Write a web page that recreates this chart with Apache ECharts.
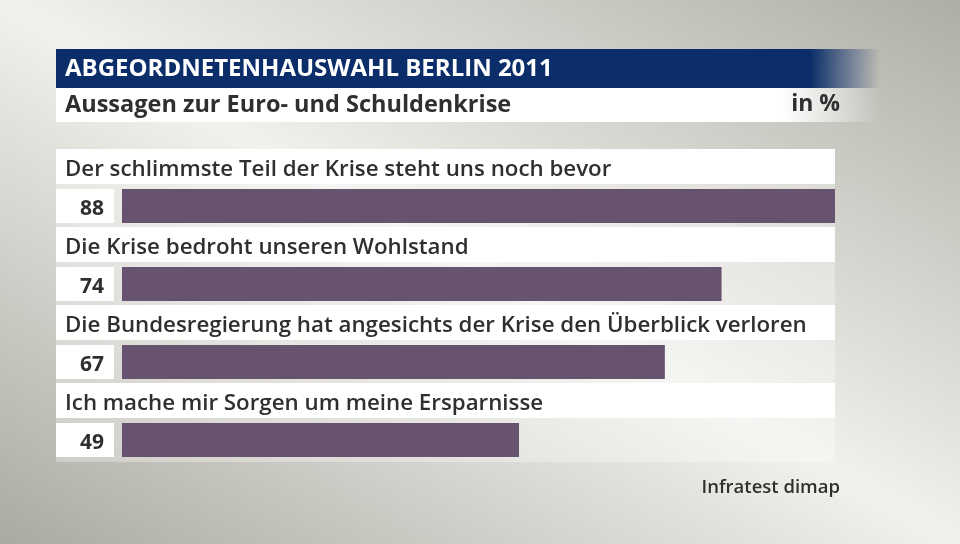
<!DOCTYPE html>
<html>
<head>
<meta charset="utf-8">
<title>Aussagen zur Euro- und Schuldenkrise</title>
<script src="https://cdn.jsdelivr.net/npm/echarts@6/dist/echarts.min.js"></script>
<style>
  html, body { margin: 0; padding: 0; }
  #chart { width: 960px; height: 544px; }
</style>
</head>
<body>
<div id="chart"></div>
<script>
// data
var categories = [
  'Der schlimmste Teil der Krise steht uns noch bevor',
  'Die Krise bedroht unseren Wohlstand',
  'Die Bundesregierung hat angesichts der Krise den Überblick verloren',
  'Ich mache mir Sorgen um meine Ersparnisse'
];
var values = [88, 74, 67, 49];
var xMax = 88;

var titleText = 'ABGEORDNETENHAUSWAHL BERLIN 2011';
var subtitleText = 'Aussagen zur Euro- und Schuldenkrise';
var unitText = 'in %';
var sourceText = 'Infratest dimap';

var fontFamily = '"Open Sans", "Noto Sans", sans-serif';
var textColor = '#2f2f2f';

var chart = echarts.init(document.getElementById('chart'));

function renderRow(params, api) {
  var i = api.value(0);
  var left = api.coord([0, i]);
  var right = api.coord([xMax, i]);
  var cy = left[1];
  var x0 = left[0] - 66;
  var x1 = right[0];
  return {
    type: 'group',
    children: [
      // pale track behind bar + value box
      { type: 'rect', shape: { x: x0, y: cy - 22, width: x1 - x0, height: 44 },
        style: { fill: 'rgba(255,255,255,0.3)' } },
      // white label strip
      { type: 'rect', shape: { x: x0, y: cy - 57, width: x1 - x0, height: 35 },
        style: { fill: '#ffffff' } },
      // white value box
      { type: 'rect', shape: { x: x0, y: cy - 17, width: 58, height: 34 },
        style: { fill: '#ffffff' } },
      { type: 'text', x: x0 + 9, y: cy - 36,
        style: { text: api.value(2), fill: textColor, font: '600 22.3px ' + fontFamily,
          textAlign: 'left', textVerticalAlign: 'middle' } },
      { type: 'text', x: x0 + 48, y: cy + 3,
        style: { text: String(api.value(1)), fill: textColor, font: 'bold 21px ' + fontFamily,
          textAlign: 'right', textVerticalAlign: 'middle' } }
    ]
  };
}

chart.setOption({
  animation: false,
  backgroundColor: {
    type: 'linear', global: true,
    x: 247, y: 684, x2: 713, y2: -140,
    colorStops: [
      { offset: 0, color: '#abaaa2' },
      { offset: 0.5, color: '#f1f1ed' },
      { offset: 1, color: '#afaea6' }
    ]
  },
  graphic: [
    { type: 'rect', left: 56, top: 49, z: 10,
      shape: { width: 824, height: 39 },
      style: { fill: new echarts.graphic.LinearGradient(0, 0, 1, 0, [
        { offset: 0, color: '#0b2d69' },
        { offset: 0.915, color: '#0b2d69' },
        { offset: 1, color: 'rgba(11,45,105,0)' }
      ]) } },
    { type: 'rect', left: 56, top: 88, z: 10,
      shape: { width: 824, height: 34 },
      style: { fill: new echarts.graphic.LinearGradient(0, 0, 1, 0, [
        { offset: 0, color: '#ffffff' },
        { offset: 0.88, color: '#ffffff' },
        { offset: 1, color: 'rgba(255,255,255,0)' }
      ]) } },
    { type: 'text', left: 65, top: 57, z: 11,
      style: { text: titleText, fill: '#ffffff', font: 'bold 24px ' + fontFamily } },
    { type: 'text', left: 65, top: 93, z: 11,
      style: { text: subtitleText, fill: textColor, font: 'bold 23.5px ' + fontFamily } },
    { type: 'text', right: 120, top: 93, z: 11,
      style: { text: unitText, fill: textColor, font: 'bold 23px ' + fontFamily } },
    { type: 'text', right: 120, top: 478, z: 11,
      style: { text: sourceText, fill: textColor, font: '600 18.5px ' + fontFamily } }
  ],
  grid: { left: 122, right: 125, top: 167, bottom: 65 },
  xAxis: { type: 'value', min: 0, max: xMax, show: false },
  yAxis: { type: 'category', data: categories, inverse: true, show: false },
  series: [
    {
      type: 'custom',
      z: 1,
      silent: true,
      encode: { y: 0, x: 1 },
      data: categories.map(function (c, i) { return [i, values[i], c]; }),
      renderItem: renderRow
    },
    {
      type: 'bar',
      z: 3,
      silent: true,
      barWidth: 34,
      itemStyle: { color: '#67536f' },
      data: values
    }
  ]
});
</script>
</body>
</html>
